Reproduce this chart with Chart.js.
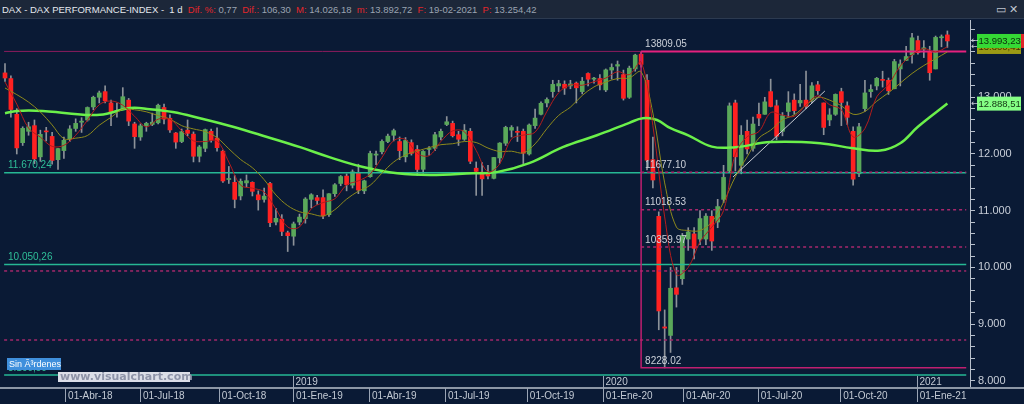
<!DOCTYPE html>
<html>
<head>
<meta charset="utf-8">
<script src="https://cdn.jsdelivr.net/npm/chart.js@4.4.1/dist/chart.umd.min.js"></script>
<style>
  html, body { margin: 0; padding: 0; background: #0a1a35; overflow: hidden; }
  #wrap { position: relative; width: 1024px; height: 404px; }
  canvas { position: absolute; left: 0; top: 0; }
  #hdr { position: absolute; left: 0; top: 0; width: 1024px; height: 19px; background: #1c2739;
         font: 9.5px "Liberation Sans", Arial, sans-serif; color: #e4e8ee; line-height: 19px;
         white-space: pre; padding-left: 2px; box-sizing: border-box; border-bottom: 1px solid #2c3a50; }
  #hdr .k { color: #e3262b; }
  #hdr .v { color: #9ba4b2; }
  #hdr .ic { position: absolute; right: 6px; top: 0; color: #c0c6d0; font-size: 11px; }
</style>
</head>
<body>
<div id="wrap">
  <canvas id="c" width="1024" height="404"></canvas>
  <div id="hdr">DAX - DAX PERFORMANCE-INDEX -  1 d  <span class="k">Dif. %:</span><span class="v"> 0,77  </span><span class="k">Dif.:</span><span class="v"> 106,30  </span><span class="k">M:</span><span class="v"> 14.026,18  </span><span class="k">m:</span><span class="v"> 13.892,72  </span><span class="k">F:</span><span class="v"> 19-02-2021  </span><span class="k">P:</span><span class="v"> 13.254,42</span><span class="ic">&#9645; &#10005;</span></div>
</div>
<script>
// weekly candles, week 0 = 22-01-2018 ... week 160 = 15-02-2021
const opens = [13430,13330,12700,12200,12400,12500,11950,12400,12310,11900,
  12060,12270,12450,12560,12600,12830,13000,13100,12900,12750,
  12800,12950,12530,12300,12500,12520,12550,12820,12630,12370,
  12220,12420,12350,11960,12100,12400,12280,12050,11550,11500,
  11260,11490,11500,11280,11200,11480,10800,10850,10610,10550,
  10800,10860,11200,11230,11230,10930,11300,11480,11610,11450,
  11670,11350,11600,11980,12040,12220,12330,12220,11950,12200,
  12080,11730,12080,12100,12300,12520,12540,12340,12260,12400,
  11750,11680,11650,11570,11930,12190,12420,12400,12400,12000,
  12500,12700,12900,13100,13200,13230,13200,13250,13100,13420,
  13320,13330,13130,13480,13550,13400,13000,13500,13760,13300,
  11900,10900,8950,8800,9640,9800,10500,10590,10500,10500,
  10900,10800,11200,11700,12900,11800,12400,12100,12700,12700,
  13100,12850,12400,12750,12950,12900,12950,12950,13220,12900,
  12600,12700,13100,12850,12400,11650,12800,13100,13200,13300,
  13300,13150,13500,13650,13750,14000,13850,13800,13500,14050,
  14100];
const highs = [13596,13380,12800,12480,12560,12600,12420,12470,12380,12100,
  12300,12500,12620,12640,12830,13020,13110,13200,12950,12900,
  13170,12980,12560,12530,12560,12720,12880,12880,12690,12380,
  12440,12600,12390,12150,12440,12440,12460,12070,11780,11620,
  11560,11630,11510,11350,11400,11500,11040,10930,10640,10800,
  10940,11230,11300,11270,11370,11300,11480,11620,11650,11720,
  11820,11540,12050,12050,12250,12350,12440,12300,12290,12250,
  12150,12060,12130,12380,12440,12660,12580,12400,12520,12450,
  11860,11850,11800,11940,12200,12490,12500,12480,12440,12530,
  12790,12920,12990,13300,13300,13290,13300,13270,13350,13430,
  13350,13400,13500,13590,13640,13480,13550,13760,13809,13400,
  12300,10980,9250,10000,10000,10600,10700,10700,11000,10950,
  11000,11200,11800,12900,12950,12500,12600,12650,12900,13000,
  13320,12950,12730,13100,13060,13230,13460,13260,13280,12900,
  12800,13060,13160,12920,12480,12540,13300,13220,13350,13460,
  13340,13670,13660,13900,14130,14080,14000,13900,14080,14100,
  14170];
const lows = [13280,12650,12000,12150,12330,11830,11870,12230,11820,11730,
  11920,12220,12400,12380,12580,12780,12900,12900,12500,12650,
  12780,12500,12100,12240,12400,12500,12530,12530,12380,12100,
  12200,12320,11860,11860,12040,12210,12050,11500,11480,11050,
  11190,11420,11260,11010,11150,10720,10750,10560,10280,10390,
  10750,10780,11050,11110,10860,10900,11250,11440,11350,11400,
  11300,11300,11590,11810,12000,12200,12230,11900,11860,11980,
  11620,11660,11980,12060,12250,12500,12300,12150,12240,11830,
  11270,11270,11560,11560,11840,12150,12300,12220,11830,11980,
  12450,12690,12830,13000,13100,13050,13150,12900,13060,13200,
  13250,13130,13100,13320,13300,12950,12980,13460,13530,11720,
  11400,8900,8228,8500,9300,9700,10300,10150,10400,10400,
  10300,10700,11140,11670,11700,11650,12000,12050,12500,12700,
  12830,12250,12320,12650,12700,12840,12800,12900,13050,12340,
  12500,12680,12500,12520,11450,11600,12750,13000,13130,13180,
  13050,13150,13200,13650,13600,13760,13700,13300,13500,13890,
  13880];
const closes = [13340,12785,12107,12452,12480,11914,12346,12390,11886,12096,
  12241,12442,12540,12580,12820,13000,13077,12938,12724,12766,
  13010,12580,12306,12496,12540,12561,12860,12615,12424,12210,
  12394,12364,11960,12124,12430,12246,12111,11524,11553,11200,
  11519,11529,11341,11192,11257,10788,10866,10634,10559,10767,
  10887,11205,11281,11180,10906,11299,11457,11602,11458,11686,
  11364,11526,12009,11999,12222,12315,12412,12059,12238,12011,
  11727,12045,12096,12340,12399,12568,12323,12260,12419,11872,
  11693,11562,11612,11939,12192,12469,12468,12381,12013,12511,
  12633,12894,12961,13228,13241,13163,13236,13167,13283,13318,
  13337,13219,13483,13526,13577,12982,13514,13744,13579,11890,
  11541,9232,8929,9632,9525,10564,10625,10336,10861,10904,
  10465,11073,11587,12848,11950,12331,12089,12528,12633,12919,
  12838,12313,12674,12901,12765,12945,12842,13202,13116,12469,
  12689,13051,12909,12646,11556,12480,13077,13137,13335,13298,
  13114,13630,13587,13719,14049,13787,13873,13433,14056,14050,
  13993.23];

// moving averages read every second week (weeks 0, 2, 4 ... 160)
const fastMa = [13270,12880,12456,12298,12134,12153,12330,12595,12869,12935,
  12860,12665,12480,12614,12615,12411,12232,12220,12228,11859,
  11449,11397,11330,11026,10712,10712,11035,11143,11210,11454,
  11527,11646,11939,12237,12256,12009,11970,12220,12407,12392,
  12061,11685,11826,12267,12333,12384,12750,13081,13217,13212,
  13276,13339,13451,13400,13620,12500,10890,9870,10000,10450,
  10710,11000,12000,12305,12395,12730,12686,12663,12863,13026,
  12869,12780,12300,12450,13007,13221,13550,13746,13857,13800,
  13890];
const slowMa = [13164,13047,12915,12742,12513,12270,12279,12326,12507,12646,
  12790,12780,12744,12678,12616,12499,12442,12394,12288,12092,
  11903,11758,11547,11277,11089,10982,10944,10907,11018,11204,
  11344,11449,11662,11859,11983,12052,12112,12164,12181,12219,
  12202,12105,12044,12049,12020,12178,12446,12680,12826,13032,
  13183,13268,13331,13341,13450,12720,11490,10710,10650,10650,
  10800,11150,11600,11950,12280,12420,12600,12690,12860,13000,
  12950,12850,12700,12750,12930,13080,13250,13420,13560,13680,
  13800.41];
// 200-session average, read at these weeks
const ma200Weeks = [0,2,6.4,10.5,16.1,21.2,24.6,28.5,33.1,38.7,44.5,50.1,55.2,60.8,66.6,72.2,79.5,83.5,
  89,94.7,100.5,106,108.3,110.7,112.9,116,120,124,130,138.4,144,148.6,152,155,160];
const ma200Values = [12720,12760,12760,12720,12690,12810,12790,12740,12630,12480,12300,12120,11940,11770,
  11660,11630,11660,11680,11840,12120,12330,12550,12630,12600,12460,12330,12130,12120,12210,12190,
  12100,12060,12190,12480,12888.51];

// drawn levels
const peakWeek = 108;
const fibHigh = 13809.05;
const fibLow = 8228.02;
const fibLevels = [11677.10, 11018.53, 10359.97];
const fibTexts = ['13809.05', '11677.10', '11018.53', '10359.97', '8228.02'];
const dottedLevels = [9937, 8720];
const supportLevels = [11670.24, 10050.26, 8100.50];
const supportTexts = ['11.670,24', '10.050,26', '8.100,50'];
const trendWeeks = [123.6, 139.2];
const trendValues = [11594, 13111];

// x axis labels
const tickWeeks = [10.2, 22.9, 36.3, 48.9, 61.8, 74.7, 88.6, 101.5, 115.1, 127.8, 141.8, 154.8];
const tickLabels = ['01-Abr-18', '01-Jul-18', '01-Oct-18', '01-Ene-19', '01-Abr-19', '01-Jul-19',
  '01-Oct-19', '01-Ene-20', '01-Abr-20', '01-Jul-20', '01-Oct-20', '01-Ene-21'];
const yearWeeks = [48.9, 101.5, 154.8];
const yearLabels = ['2019', '2020', '2021'];

const X_MIN = -0.849, X_MAX = 163.84, LINE_START = -0.15, LINE_END = 163.2;
const UP = '#5aa85a', DOWN = '#ff2121';

const weeks = closes.map((c, i) => i);
const flat = (v, x0, x1) => [{x: x0, y: v}, {x: x1, y: v}];
const levelLine = (data, color, width, dash, order) => ({
  type: 'line', data, borderColor: color, borderWidth: width, borderDash: dash || [],
  pointRadius: 0, tension: 0, order
});

const datasets = [
  {
    type: 'bar', order: 20, grouped: false, barThickness: 1,
    data: weeks.map(i => ({x: i, y: [lows[i], highs[i]]})),
    backgroundColor: '#8d9299'
  },
  {
    type: 'bar', order: 19, grouped: false, barThickness: 4, minBarLength: 1,
    data: weeks.map(i => ({x: i, y: [opens[i], closes[i]]})),
    backgroundColor: ctx => closes[ctx.dataIndex] >= opens[ctx.dataIndex] ? UP : DOWN
  },
  levelLine(flat(supportLevels[0], LINE_START, LINE_END), '#26b894', 1.5, null, 15),
  levelLine(flat(supportLevels[1], LINE_START, LINE_END), '#26b894', 1.5, null, 15),
  levelLine(flat(supportLevels[2], LINE_START, LINE_END), '#26b894', 1.5, null, 15),
  levelLine(flat(dottedLevels[0], LINE_START, LINE_END), '#a3286a', 1.5, [3, 3], 14),
  levelLine(flat(dottedLevels[1], LINE_START, LINE_END), '#a3286a', 1.5, [3, 3], 14),
  ...fibLevels.map(v => levelLine(flat(v, peakWeek, LINE_END), '#a8286c', 1.5, [3, 3], 14)),
  levelLine(flat(fibHigh, LINE_START, peakWeek), '#8c1c5e', 1, null, 13),
  levelLine(flat(fibHigh, peakWeek, LINE_END), '#e6217f', 2, null, 13),
  levelLine([{x: peakWeek, y: fibHigh}, {x: peakWeek, y: fibLow}, {x: LINE_END, y: fibLow}], '#c01f70', 1.5, null, 13),
  levelLine(trendWeeks.map((w, k) => ({x: w, y: trendValues[k]})), '#c8ccd4', 1, null, 5),
  {
    type: 'line', order: 3, borderColor: '#6bf04a', borderWidth: 2.5, pointRadius: 0, tension: 0.4,
    data: ma200Weeks.map((w, k) => ({x: w, y: ma200Values[k]}))
  },
  {
    type: 'line', order: 2, borderColor: '#8e8a1c', borderWidth: 1, pointRadius: 0, tension: 0.35,
    data: slowMa.map((v, k) => ({x: 2 * k, y: v}))
  },
  {
    type: 'line', order: 1, borderColor: '#b51d1d', borderWidth: 1, pointRadius: 0, tension: 0.35,
    data: fastMa.map((v, k) => ({x: 2 * k, y: v}))
  }
];

function fmt(v) {
  const s = v.toFixed(2).split('.');
  return s[0].replace(/\B(?=(\d{3})+(?!\d))/g, '.') + ',' + s[1];
}

function priceBox(ctx, yc, bg, fg, text) {
  ctx.fillStyle = bg;
  ctx.fillRect(977, yc - 7, 44, 14);
  ctx.fillStyle = fg;
  ctx.font = '9.5px "Liberation Sans", Arial, sans-serif';
  ctx.textAlign = 'left';
  ctx.textBaseline = 'middle';
  ctx.fillText(text, 978.5, yc + 0.5);
  ctx.fillStyle = '#c8ced8';
  ctx.font = '9px "DejaVu Sans", sans-serif';
  ctx.fillText('\u2190', 971, yc);
}

const overlay = {
  id: 'overlay',
  afterDraw(chart) {
    const {ctx, scales: {x, y}, chartArea: a} = chart;
    ctx.save();
    ctx.font = '10px "Liberation Sans", Arial, sans-serif';
    ctx.textBaseline = 'bottom';
    ctx.textAlign = 'left';
    // fibonacci labels
    ctx.fillStyle = '#ccd1da';
    const fx = x.getPixelForValue(peakWeek) + 4;
    [fibHigh, ...fibLevels, fibLow].forEach((v, k) => ctx.fillText(fibTexts[k], fx, y.getPixelForValue(v) - 2));
    // support labels
    ctx.fillStyle = '#2fbf98';
    supportLevels.forEach((v, k) => ctx.fillText(supportTexts[k], 8, y.getPixelForValue(v) - 2));
    // x axis tick marks and years
    ctx.strokeStyle = '#9aa4b4';
    ctx.lineWidth = 1;
    tickWeeks.forEach(w => {
      const px = Math.round(x.getPixelForValue(w)) + 0.5;
      ctx.beginPath(); ctx.moveTo(px, a.bottom); ctx.lineTo(px, a.bottom + 14); ctx.stroke();
    });
    ctx.fillStyle = '#c3cad4';
    yearWeeks.forEach((w, k) => {
      const px = Math.round(x.getPixelForValue(w)) + 0.5;
      ctx.beginPath(); ctx.moveTo(px, a.bottom); ctx.lineTo(px, a.bottom - 12); ctx.stroke();
      ctx.fillText(yearLabels[k], px + 2, a.bottom - 1);
    });
    ctx.fillStyle = '#8d97a6';
    ctx.fillRect(a.right, a.bottom - 1, 1024 - a.right, 2);
    // price boxes on the right axis
    const yLast = y.getPixelForValue(closes[closes.length - 1]);
    const ySlow = Math.max(y.getPixelForValue(slowMa[slowMa.length - 1]) - 8, yLast + 6);
    ctx.fillStyle = '#e0262a';
    ctx.fillRect(1010, yLast - 7, 14, 14);
    priceBox(ctx, ySlow, '#9c9a14', '#3a3500', fmt(slowMa[slowMa.length - 1]));
    priceBox(ctx, yLast, '#35d935', '#0c2a0c', fmt(closes[closes.length - 1]));
    priceBox(ctx, y.getPixelForValue(ma200Values[ma200Values.length - 1]), '#85ff85', '#123412', fmt(ma200Values[ma200Values.length - 1]));
    // order box and watermark
    ctx.fillStyle = '#3f8fdc';
    ctx.fillRect(7, 358, 54, 12);
    ctx.fillStyle = '#ffffff';
    ctx.font = '9px "Liberation Sans", Arial, sans-serif';
    ctx.textBaseline = 'middle';
    ctx.fillText('Sin \u00c3\u00b3rdenes', 9, 364.5);
    ctx.fillStyle = '#dcdfe8';
    ctx.fillRect(58, 372, 132, 10);
    ctx.fillStyle = '#8e94a8';
    ctx.font = 'bold 11px "DejaVu Sans", sans-serif';
    ctx.fillText('www.visualchart.com', 60, 377.5);
    ctx.restore();
  }
};

new Chart(document.getElementById('c'), {
  type: 'bar',
  data: {datasets},
  options: {
    responsive: false,
    animation: false,
    devicePixelRatio: 1,
    layout: {padding: {top: 20, left: 0, right: 0, bottom: 0}},
    plugins: {legend: {display: false}, tooltip: {enabled: false}},
    scales: {
      x: {
        type: 'linear', min: X_MIN, max: X_MAX, offset: false,
        afterFit: s => { s.height = 16; },
        afterBuildTicks: s => { s.ticks = tickWeeks.map(v => ({value: v})); },
        ticks: {
          autoSkip: false, maxRotation: 0, align: 'start', labelOffset: 3, padding: 2,
          color: '#c3cad4', font: {size: 10, family: '"Liberation Sans", Arial, sans-serif'},
          callback: (v, i) => tickLabels[i]
        },
        grid: {display: true, drawOnChartArea: false, drawTicks: false},
        border: {display: true, color: '#8d97a6', width: 2}
      },
      y: {
        position: 'right', min: 7873, max: 14363, beginAtZero: false,
        afterFit: s => { s.width = 54; },
        afterBuildTicks: s => {
          const t = [];
          for (let v = 8000; v <= 14200; v += 200) t.push({value: v});
          s.ticks = t;
        },
        ticks: {
          autoSkip: false, padding: 3, color: '#c8ced8', font: {size: 11, family: '"Liberation Sans", Arial, sans-serif'},
          callback: v => (v % 1000 === 0 ? (v / 1000) + '.000' : '')
        },
        grid: {drawOnChartArea: false, drawTicks: true, tickLength: 5, color: '#b8c0cc'},
        border: {display: true, color: '#b8c0cc', width: 1}
      }
    }
  },
  plugins: [overlay]
});
</script>
</body>
</html>
